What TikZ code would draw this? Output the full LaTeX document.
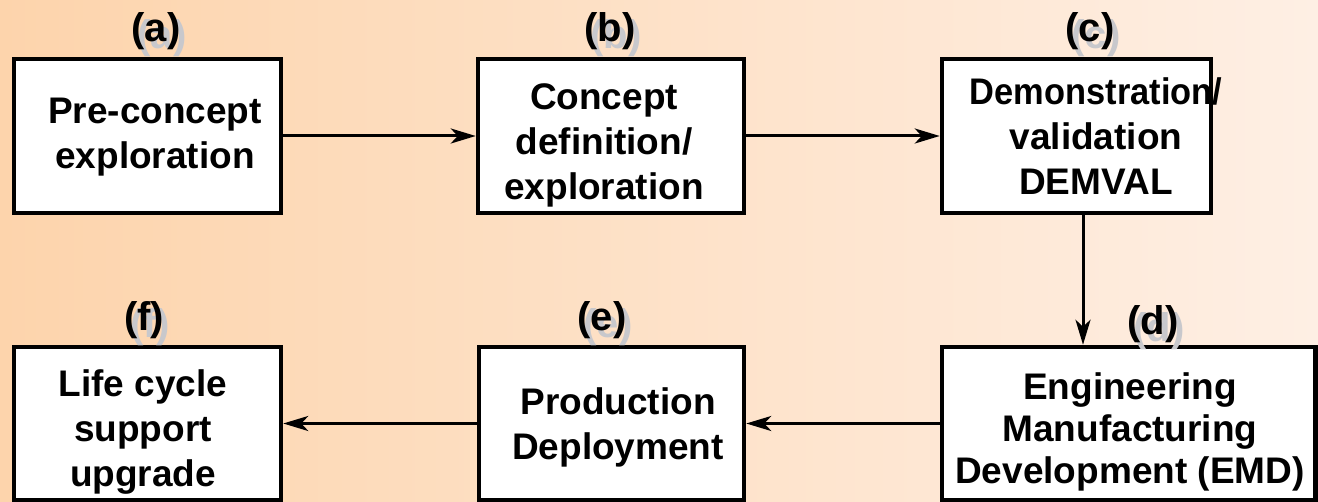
\documentclass[tikz,border=0pt]{standalone}
\usepackage{fontspec}
\usepackage{graphicx}
\setmainfont{Liberation Sans}
\usetikzlibrary{arrows.meta}
\definecolor{bgleft}{RGB}{253,212,172}
\definecolor{bgright}{RGB}{254,239,228}
\definecolor{tagshadow}{RGB}{200,200,204}
\tikzset{
  stage/.style={draw=black, line width=4.5pt, fill=white, rectangle, inner sep=0pt},
  stagetext/.style={font=\bfseries\fontsize{37}{45}\selectfont, align=center, inner sep=0pt},
  tag/.style={font=\bfseries\fontsize{40}{48}\selectfont, inner sep=0pt},
  flow/.style={line width=3pt, -{Stealth[length=25pt,width=15pt,inset=7pt]}},
}
\begin{document}
\begin{tikzpicture}[x=1pt,y=-1pt]
\useasboundingbox (0,0) rectangle (1318,502);
\shade[left color=bgleft,right color=bgright] (0,0) rectangle (1318,502);

% stage boxes
\node[stage, minimum width=267pt, minimum height=154pt] (a) at (147.5,136) {};
\node[stage, minimum width=266pt, minimum height=154pt] (b) at (611,136) {};
\node[stage, minimum width=269pt, minimum height=154pt] (c) at (1076.5,136) {};
\node[stage, minimum width=373.5pt, minimum height=153pt] (d) at (1128.75,423.5) {};
\node[stage, minimum width=265pt, minimum height=153pt] (e) at (611.5,423.5) {};
\node[stage, minimum width=267pt, minimum height=153pt] (f) at (147.5,423.5) {};

% stage texts
\node[stagetext] (a-t) at (155,137) {Pre-concept\\exploration};
\node[stagetext] (b-t) at (604,145) {Concept\\definition/\\exploration};
\node[stagetext] (c-t) at (1096,136.5) {\scalebox{0.93}[1]{Demonstration/}\\validation\\DEMVAL};
\node[stagetext, font=\bfseries\fontsize{37}{42}\selectfont] (d-t) at (1130,432) {Engineering\\Manufacturing\\Development (EMD)};
\node[stagetext] (e-t) at (618,427) {Production\\Deployment};
\node[stagetext] (f-t) at (143,432) {Life cycle\\support\\upgrade};

% flow between stages
\draw[flow] (a) -- (b);
\draw[flow] (b) -- (c);
\draw[flow] ([xshift=6.5pt]c.south) -- ([xshift=6.5pt]c.south |- d.north);
\draw[flow] (d) -- (e);
\draw[flow] (e) -- (f);

% stage tags with drop shadow
\node[tag, text=tagshadow] (a-s) at (162,38) {(a)};
\node[tag] (a-l) at (156,31) {(a)};
\node[tag, text=tagshadow] (b-s) at (616,38) {(b)};
\node[tag] (b-l) at (610,31) {(b)};
\node[tag, text=tagshadow] (c-s) at (1096,38) {(c)};
\node[tag] (c-l) at (1090,31) {(c)};
\node[tag, text=tagshadow] (d-s) at (1159,331) {(d)};
\node[tag] (d-l) at (1153,324) {(d)};
\node[tag, text=tagshadow] (e-s) at (608,327) {(e)};
\node[tag] (e-l) at (602,320) {(e)};
\node[tag, text=tagshadow] (f-s) at (150,327) {(f)};
\node[tag] (f-l) at (144,320) {(f)};
\end{tikzpicture}
\end{document}
